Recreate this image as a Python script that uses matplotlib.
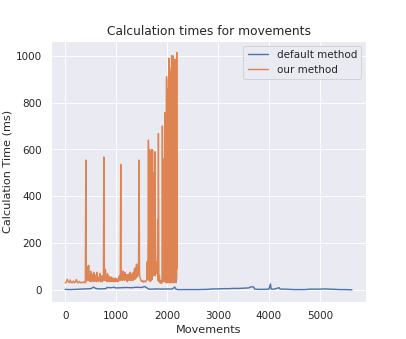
import matplotlib

matplotlib.use("Agg")

import matplotlib.pyplot as plt
import numpy as np
import seaborn as sns

# default method: movement index -> calculation time (ms)
default_x = [0, 100, 200, 300, 400, 500, 540, 560, 580, 620, 700, 800, 820, 900, 950,
             1000, 1100, 1200, 1300, 1400, 1500, 1560, 1600, 1640, 1700, 1800, 1900,
             2000, 2100, 2150, 2170, 2200, 2400, 2600, 2800, 2900, 3000, 3100, 3200,
             3300, 3400, 3500, 3600, 3650, 3700, 3720, 3800, 3900, 4000, 4030, 4045,
             4100, 4200, 4220, 4300, 4400, 4500, 4600, 4700, 4800, 4900, 5000, 5100,
             5200, 5300, 5400, 5500, 5630]
default_ms = [2, 1, 2, 3, 4, 5, 9, 12, 8, 5, 4, 5, 10, 9, 11,
              8, 9, 10, 9, 11, 10, 14, 9, 3, 3, 4, 3,
              4, 3, 12, 4, 1, 1, 1, 2, 4, 4, 5, 5,
              6, 6, 7, 8, 13, 12, 3, 2, 2, 3, 25, 3,
              3, 9, 3, 3, 2, 1, 1, 1, 3, 3, 3, 4,
              3, 2, 1, 1, 0]

# our method, first part (steady phase with four isolated spikes)
ours_early_x = [0, 20, 40, 60, 80, 100, 120, 140, 160, 180, 200, 220, 240, 260, 280,
                300, 320, 340, 360, 380, 395, 405, 415, 425, 430, 440, 450, 460, 470,
                480, 490, 500, 510, 520, 530, 540, 550, 560, 570, 580, 590, 600, 610,
                620, 630, 640, 650, 660, 670, 680, 690, 700, 710, 720, 730, 740, 750,
                758, 766, 775, 780, 790, 800, 810, 820, 830, 840, 850, 860, 870, 880,
                890, 900, 910, 920, 930, 940, 950, 960, 970, 980, 990, 1000, 1010,
                1020, 1030, 1040, 1050, 1060, 1070, 1080, 1091, 1100, 1110, 1120,
                1130, 1140, 1150, 1160, 1170, 1180, 1190, 1200, 1210, 1220, 1230,
                1240, 1250, 1260, 1270, 1280, 1290, 1300, 1310, 1320, 1330, 1340,
                1350, 1360, 1370, 1380, 1390, 1400, 1410, 1420, 1430, 1440, 1451,
                1460, 1480, 1500, 1520, 1540, 1560, 1580]
ours_early_ms = [30, 32, 45, 35, 30, 42, 31, 30, 38, 30, 33, 44, 31, 30, 36,
                 30, 32, 30, 34, 31, 30, 555, 35, 100, 45, 95, 40, 105, 45,
                 60, 35, 80, 40, 70, 35, 65, 40, 75, 35, 65, 40, 55, 35,
                 75, 40, 55, 35, 45, 40, 70, 35, 45, 35, 60, 35, 45, 40,
                 568, 45, 90, 40, 85, 40, 60, 35, 70, 40, 60, 35, 55, 40,
                 50, 35, 55, 38, 45, 35, 50, 35, 45, 35, 50, 38, 45,
                 35, 45, 35, 55, 40, 60, 40, 536, 45, 70, 40,
                 80, 45, 75, 40, 75, 45, 60, 40, 65, 35, 55,
                 65, 40, 70, 45, 75, 40, 65, 45, 70, 40, 75,
                 50, 90, 45, 95, 50, 110, 55, 100, 60, 125, 555,
                 60, 45, 35, 40, 32, 38, 35]

# our method, second part (bursty phase before it stops)
ours_late_x = [1600, 1610, 1620, 1630, 1634, 1640, 1645, 1650, 1655, 1660, 1665, 1670,
               1675, 1680, 1685, 1690, 1695, 1700, 1705, 1710, 1715, 1720, 1725, 1730,
               1735, 1745, 1755, 1765, 1770, 1775, 1785, 1795, 1805, 1815, 1822, 1830,
               1840, 1850, 1860, 1870, 1880, 1890, 1900, 1908, 1915, 1925, 1935, 1940,
               1945, 1950, 1955, 1960, 1965, 1970, 1975, 1980, 1985, 1990, 1995, 2000,
               2005, 2010, 2015, 2020, 2025, 2030, 2035, 2040, 2045, 2050, 2055, 2060,
               2065, 2070, 2075, 2080, 2085, 2090, 2095, 2100, 2105, 2110, 2115, 2120,
               2125, 2130, 2135, 2140, 2145, 2150, 2155, 2160, 2165, 2170, 2175, 2180,
               2185, 2190, 2196]
ours_late_ms = [40, 120, 45, 250, 640, 50, 560, 40, 600, 60, 520, 35,
                590, 70, 480, 40, 600, 55, 420, 45, 598, 60, 500, 110,
                60, 110, 80, 590, 60, 100, 70, 120, 90, 300, 40, 668,
                35, 60, 30, 40, 28, 35, 30, 700, 40, 300, 35, 560,
                40, 500, 757, 35, 600, 40, 720, 30, 650, 911, 35, 860,
                40, 780, 30, 850, 45, 900, 35, 990, 40, 950, 30, 870,
                45, 930, 35, 880, 40, 1002, 30, 940, 45, 900, 35, 1000,
                40, 960, 30, 985, 45, 900, 35, 985, 40, 950, 30, 880,
                45, 1015, 90]

sns.set_theme()

fig, ax = plt.subplots(figsize=(6, 5), dpi=67.83)
ax.plot(default_x, default_ms, label="default method")
ax.plot(np.concatenate([ours_early_x, ours_late_x]),
        np.concatenate([ours_early_ms, ours_late_ms]), label="our method")

ax.set_title("Calculation times for movements", fontsize=13)
ax.set_xlabel("Movements")
ax.set_ylabel("Calculation Time (ms)")
ax.legend(loc="upper right")

fig.savefig("out.png", dpi=67.83)
plt.close(fig)
